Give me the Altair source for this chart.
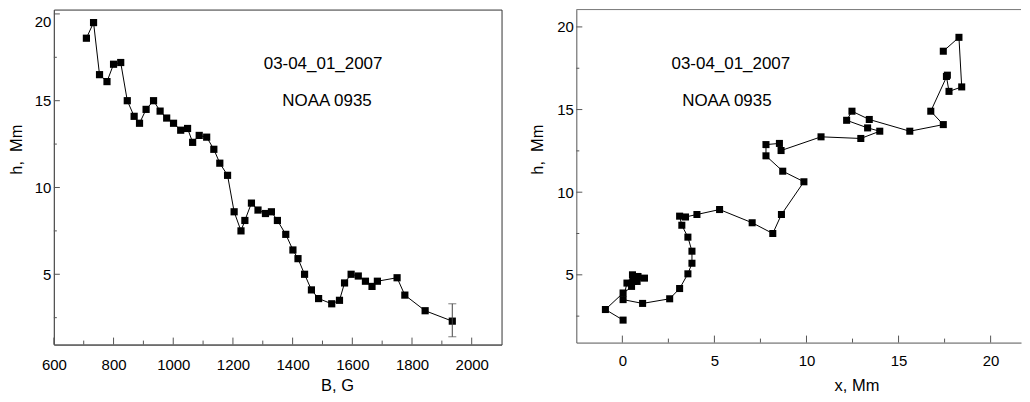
import altair as alt
import pandas as pd

FONT = "Liberation Sans"

# ---- left panel: h versus B ----
B_G = [709, 733, 753, 778, 800, 824, 846, 869, 887, 909,
       934, 956, 978, 1001, 1025, 1048, 1065, 1087, 1112, 1136,
       1156, 1182, 1204, 1227, 1240, 1262, 1284, 1309, 1329, 1349,
       1377, 1401, 1418, 1440, 1463, 1487, 1531, 1557, 1574, 1596,
       1620, 1644, 1666, 1684, 1750, 1776, 1844, 1935]
H_VS_B = [18.6, 19.5, 16.5, 16.1, 17.1, 17.2, 15.0, 14.1, 13.7, 14.5,
          15.0, 14.4, 14.0, 13.7, 13.3, 13.4, 12.6, 13.0, 12.9, 12.2,
          11.4, 10.7, 8.6, 7.5, 8.1, 9.1, 8.7, 8.5, 8.6, 8.1,
          7.3, 6.4, 5.9, 5.0, 4.1, 3.6, 3.3, 3.5, 4.5, 5.0,
          4.9, 4.6, 4.3, 4.6, 4.8, 3.8, 2.9, 2.3]
ERR_B = [1935]
ERR_LOW = [1.4]
ERR_HIGH = [3.3]

# ---- right panel: h versus x ----
X_MM = [17.43, 18.28, 18.43, 17.74, 17.6, 17.65, 16.75, 17.43, 15.61, 13.41,
        12.47, 12.18, 13.32, 13.98, 12.95, 10.79, 8.62, 8.53, 7.80, 7.80,
        8.71, 9.86, 8.64, 8.17, 7.05, 5.28, 4.05, 3.43, 3.11, 3.23,
        3.56, 3.78, 3.78, 3.56, 3.11, 2.57, 1.10, 0.04, 0.25, 0.55,
        0.85, 0.6, 0.5, 0.8, 1.2, 0.04, -0.92, 0.04]
H_VS_X = [18.53, 19.37, 16.37, 16.1, 17.0, 17.08, 14.9, 14.09, 13.69, 14.40,
          14.90, 14.35, 13.89, 13.69, 13.25, 13.35, 12.52, 12.95, 12.88, 12.2,
          11.27, 10.63, 8.65, 7.50, 8.15, 8.95, 8.65, 8.5, 8.55, 8.0,
          7.28, 6.43, 5.7, 5.06, 4.17, 3.55, 3.27, 3.5, 4.5, 5.0,
          4.9, 4.6, 4.3, 4.6, 4.8, 3.9, 2.9, 2.26]

# ---- axis ticks and texts ----
B_LABELS = [600, 800, 1000, 1200, 1400, 1600, 1800, 2000]
B_MINOR = [700, 900, 1100, 1300, 1500, 1700, 1900]
H_LABELS = [5, 10, 15, 20]
H_MINOR = [2.5, 7.5, 12.5, 17.5]
X_LABELS = [0, 5, 10, 15, 20]
X_MINOR = [2.5, 7.5, 12.5, 17.5]
DATE_TEXT = "03-04_01_2007"
REGION_TEXT = "NOAA 0935"
H_TITLE = "h,\u00a0\u00a0Mm"

W1, H1 = 449, 336
W2, H2 = 446, 334
AXIS_GRAY = "#555555"


def make_axis(**kw):
    base = dict(grid=False, ticks=False, tickSize=0, domainColor=AXIS_GRAY, domainWidth=1,
                labelFont=FONT, labelFontSize=15, labelColor="black", format="d",
                titleFont=FONT, titleFontSize=16.5, titleFontWeight="normal",
                titleColor="black", titleAlign="center", titleBaseline="middle",
                labelFlush=False, labelOverlap=False)
    base.update(kw)
    return alt.Axis(**base)


def tick_layers(xvals_major, xvals_minor, yvals_major, yvals_minor, xs, ys, xax, yax, h):
    layers = []
    for vals, ln in ((xvals_major, 7), (xvals_minor, 4)):
        layers.append(
            alt.Chart(pd.DataFrame({"v": vals})).mark_rule(color=AXIS_GRAY, strokeWidth=1).encode(
                x=alt.X("v:Q", scale=xs, axis=xax),
                y=alt.value(h), y2=alt.value(h - ln)))
    for vals, ln in ((yvals_major, 6), (yvals_minor, 3)):
        layers.append(
            alt.Chart(pd.DataFrame({"v": vals})).mark_rule(color=AXIS_GRAY, strokeWidth=1).encode(
                y=alt.Y("v:Q", scale=ys, axis=yax),
                x=alt.value(0), x2=alt.value(ln)))
    return layers


def text_layer(txt, px, py):
    return alt.Chart(pd.DataFrame({"t": [txt]})).mark_text(
        font=FONT, fontSize=17, color="black", align="center", baseline="middle").encode(
        text="t:N", x=alt.value(px), y=alt.value(py))


# ---------------- left ----------------
left_df = pd.DataFrame({"i": list(range(len(B_G))), "B": B_G, "h": H_VS_B})
err_df = pd.DataFrame({"B": ERR_B, "lo": ERR_LOW, "hi": ERR_HIGH})
bx = alt.Scale(domain=[600, 2100], nice=False, zero=False)
by = alt.Scale(domain=[0.95, 20.25], nice=False, zero=False)
ax_lx = make_axis(values=B_LABELS, labelPadding=13, title="B, G", titleX=284, titleY=41)
ax_ly = make_axis(values=H_LABELS, labelPadding=3, title=H_TITLE, titleX=-37, titleY=140,
                  titleAngle=270,
                  labelOffset={"condition": {"test": "datum.value == 20", "value": 8},
                               "value": 0})

l_line = alt.Chart(left_df).mark_line(color="black", strokeWidth=1).encode(
    x=alt.X("B:Q", scale=bx, axis=ax_lx), y=alt.Y("h:Q", scale=by, axis=ax_ly), order="i:Q")
l_pts = alt.Chart(left_df).mark_square(size=52, color="black", opacity=1).encode(
    x=alt.X("B:Q", scale=bx, axis=ax_lx), y=alt.Y("h:Q", scale=by, axis=ax_ly))
l_err = alt.Chart(err_df).mark_rule(color="#444444", strokeWidth=1).encode(
    x=alt.X("B:Q", scale=bx, axis=ax_lx), y=alt.Y("lo:Q", scale=by, axis=ax_ly), y2="hi:Q")
l_cap_lo = alt.Chart(err_df).mark_tick(orient="horizontal", size=8, thickness=1, color="#444444").encode(
    x=alt.X("B:Q", scale=bx, axis=ax_lx), y=alt.Y("lo:Q", scale=by, axis=ax_ly))
l_cap_hi = alt.Chart(err_df).mark_tick(orient="horizontal", size=8, thickness=1, color="#444444").encode(
    x=alt.X("B:Q", scale=bx, axis=ax_lx), y=alt.Y("hi:Q", scale=by, axis=ax_ly))

left = alt.layer(
    l_line, l_pts, l_err, l_cap_lo, l_cap_hi,
    *tick_layers(B_LABELS, B_MINOR, H_LABELS, H_MINOR, bx, by, ax_lx, ax_ly, H1),
    text_layer(DATE_TEXT, 270, 55), text_layer(REGION_TEXT, 274, 92),
).properties(width=W1, height=H1, view=alt.ViewBackground(stroke="#333333", strokeWidth=1))

# ---------------- right ----------------
right_df = pd.DataFrame({"i": list(range(len(X_MM))), "x": X_MM, "h": H_VS_X})
xx = alt.Scale(domain=[-2.5, 21.65], nice=False, zero=False)
xy = alt.Scale(domain=[0.9, 21.05], nice=False, zero=False)
ax_rx = make_axis(values=X_LABELS, labelPadding=11, title="x, Mm", titleX=281, titleY=43)
ax_ry = make_axis(values=H_LABELS, labelPadding=3, title=H_TITLE, titleX=-39, titleY=140,
                  titleAngle=270)

r_line = alt.Chart(right_df).mark_line(color="black", strokeWidth=1).encode(
    x=alt.X("x:Q", scale=xx, axis=ax_rx), y=alt.Y("h:Q", scale=xy, axis=ax_ry), order="i:Q")
r_pts = alt.Chart(right_df).mark_square(size=50, color="black", opacity=1).encode(
    x=alt.X("x:Q", scale=xx, axis=ax_rx), y=alt.Y("h:Q", scale=xy, axis=ax_ry))
r_top = alt.Chart(pd.DataFrame({"a": [0]})).mark_rule(color="#777777", strokeWidth=1).encode(
    x=alt.value(0), x2=alt.value(W2), y=alt.value(0))

right = alt.layer(
    r_line, r_pts, r_top,
    *tick_layers(X_LABELS, X_MINOR, H_LABELS, H_MINOR, xx, xy, ax_rx, ax_ry, H2),
    text_layer(DATE_TEXT, 155, 55), text_layer(REGION_TEXT, 151, 92),
).properties(width=W2, height=H2, view=alt.ViewBackground(stroke="transparent"))

chart = alt.hconcat(left, right, spacing=26).configure(
    padding={"left": 0, "top": 0, "right": 0, "bottom": 0}, font=FONT)

chart.save("out.html", embed_options={"renderer": "svg", "actions": False})
